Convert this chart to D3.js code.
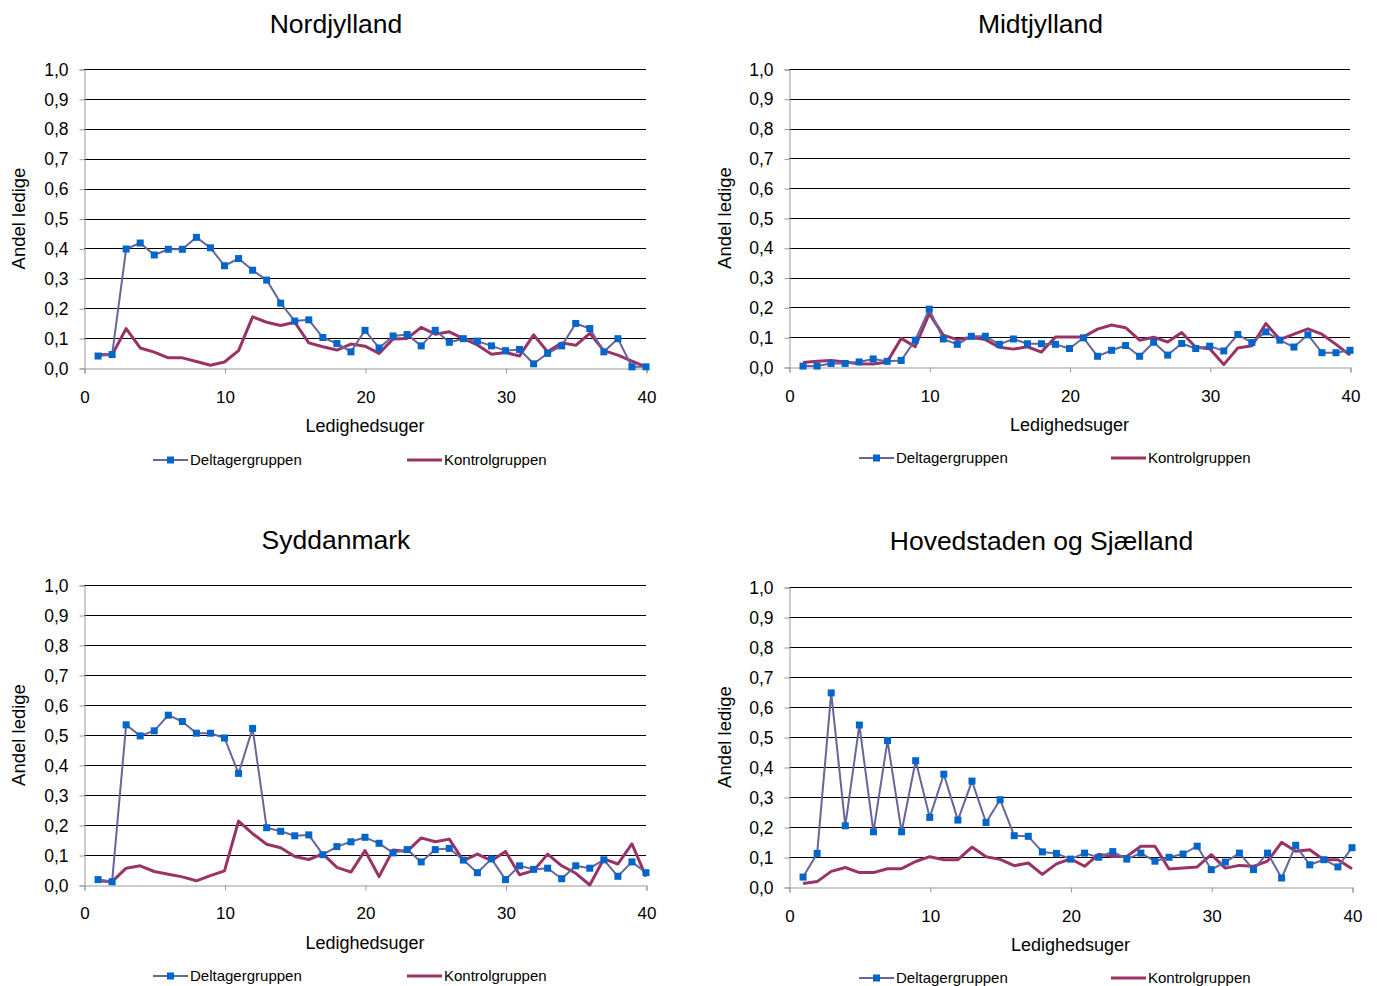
<!DOCTYPE html>
<html><head><meta charset="utf-8">
<script src="https://cdn.jsdelivr.net/npm/d3@7"></script>
<style>
body{margin:0;background:#fff;}
svg{display:block;font-family:"Liberation Sans",Arial,sans-serif;}
</style></head>
<body>
<svg id="c" width="1377" height="986"></svg>
<script>
const weeks = d3.range(1, 41);
const yTicks = [0,0.1,0.2,0.3,0.4,0.5,0.6,0.7,0.8,0.9,1.0];
const xTicks = [0,10,20,30,40];
const titles = ["Nordjylland","Midtjylland","Syddanmark","Hovedstaden og Sjælland"];
const seriesNames = ["Deltagergruppen","Kontrolgruppen"];

const nordDeltager = [0.040,0.045,0.398,0.418,0.378,0.397,0.397,0.437,0.402,0.342,0.366,0.327,0.294,0.217,0.157,0.161,0.102,0.082,0.054,0.126,
  0.067,0.107,0.112,0.074,0.126,0.086,0.098,0.090,0.074,0.058,0.062,0.014,0.049,0.074,0.149,0.132,0.054,0.098,0.004,0.004];
const nordKontrol = [0.045,0.044,0.132,0.067,0.053,0.034,0.034,0.022,0.009,0.020,0.058,0.171,0.153,0.142,0.153,0.084,0.071,0.060,0.080,0.073,
  0.049,0.097,0.099,0.136,0.113,0.121,0.098,0.077,0.046,0.052,0.040,0.111,0.054,0.084,0.076,0.116,0.058,0.043,0.023,0.004];
const midtDeltager = [0.003,0.003,0.012,0.012,0.017,0.027,0.019,0.022,0.090,0.194,0.094,0.076,0.103,0.103,0.076,0.094,0.078,0.078,0.076,0.062,
  0.098,0.036,0.056,0.072,0.036,0.083,0.040,0.079,0.062,0.070,0.054,0.109,0.082,0.118,0.090,0.067,0.108,0.048,0.048,0.056];
const midtKontrol = [0.015,0.019,0.022,0.017,0.011,0.010,0.017,0.096,0.068,0.179,0.107,0.092,0.099,0.092,0.066,0.060,0.068,0.050,0.101,0.101,
  0.101,0.127,0.141,0.132,0.090,0.100,0.084,0.116,0.066,0.061,0.008,0.064,0.071,0.146,0.092,0.110,0.128,0.110,0.076,0.040];
const sydDeltager = [0.018,0.011,0.534,0.497,0.514,0.566,0.545,0.506,0.506,0.490,0.372,0.522,0.191,0.179,0.164,0.167,0.101,0.128,0.144,0.159,
  0.139,0.107,0.118,0.077,0.118,0.122,0.083,0.041,0.087,0.018,0.064,0.052,0.056,0.021,0.064,0.056,0.084,0.029,0.077,0.041];
const sydKontrol = [0.014,0.011,0.056,0.064,0.045,0.036,0.027,0.014,0.031,0.047,0.213,0.171,0.136,0.124,0.095,0.085,0.104,0.059,0.043,0.115,
  0.028,0.117,0.112,0.157,0.144,0.153,0.081,0.103,0.081,0.112,0.034,0.048,0.103,0.064,0.039,0.000,0.087,0.070,0.137,0.028];
const hovDeltager = [0.033,0.112,0.647,0.204,0.540,0.184,0.488,0.184,0.421,0.232,0.376,0.223,0.353,0.215,0.291,0.171,0.169,0.117,0.112,0.093,
  0.113,0.099,0.118,0.093,0.113,0.086,0.099,0.110,0.136,0.058,0.083,0.113,0.058,0.113,0.030,0.139,0.074,0.091,0.067,0.131];
const hovKontrol = [0.012,0.018,0.052,0.065,0.048,0.048,0.061,0.061,0.085,0.101,0.091,0.091,0.133,0.101,0.092,0.071,0.080,0.042,0.077,0.094,
  0.069,0.109,0.102,0.102,0.136,0.136,0.060,0.063,0.067,0.108,0.063,0.072,0.069,0.086,0.149,0.119,0.124,0.091,0.091,0.061];

const deltagerSets = [nordDeltager, midtDeltager, sydDeltager, hovDeltager];
const kontrolSets = [nordKontrol, midtKontrol, sydKontrol, hovKontrol];

// layout per panel
const layout = [
  {x0:84, x1:646, y0:69, y1:368, titleY:33, xlabY:402, xtitleY:432, legY:460, ytitleX:25, leg1:153, leg2:407},
  {x0:789, x1:1350, y0:69, y1:367, titleY:33, xlabY:401, xtitleY:431, legY:458, ytitleX:731, leg1:859, leg2:1111},
  {x0:84, x1:646, y0:585, y1:885, titleY:549, xlabY:918, xtitleY:949, legY:976, ytitleX:25, leg1:153, leg2:407},
  {x0:789, x1:1352, y0:587, y1:887, titleY:550, xlabY:921, xtitleY:951, legY:978, ytitleX:731, leg1:859, leg2:1111}
];

const svg = d3.select("#c");
const fmt = d => d.toFixed(1).replace(".", ",");

layout.forEach((L, i) => {
  const g = svg.append("g");
  const x = d3.scaleLinear().domain([0,40]).range([L.x0, L.x1]);
  const y = d3.scaleLinear().domain([0,1]).range([L.y1, L.y0]);

  // gridlines
  g.append("g").selectAll("line").data(yTicks.filter(t => t > 0)).join("line")
    .attr("x1", L.x0).attr("x2", L.x1)
    .attr("y1", d => Math.round(y(d)) + 0.5).attr("y2", d => Math.round(y(d)) + 0.5)
    .attr("stroke", "#000").attr("stroke-width", 1);

  // y axis
  const ya = g.append("g").attr("transform", `translate(${L.x0 + 0.5},0.5)`)
    .call(d3.axisLeft(y).tickValues(yTicks).tickFormat(fmt).tickSize(5).tickPadding(11));
  ya.select(".domain").attr("stroke", "#999");
  ya.selectAll(".tick line").attr("stroke", "#999");
  ya.selectAll("text").attr("font-size", 17.5).attr("fill", "#000").attr("font-family", "'Liberation Sans', Arial, sans-serif");

  // x axis
  const xa = g.append("g").attr("transform", `translate(0.5,${L.y1 + 0.5})`)
    .call(d3.axisBottom(x).tickValues(xTicks).tickFormat(d3.format("d")).tickSize(5).tickPadding(0));
  xa.select(".domain").attr("stroke", "#999");
  xa.selectAll(".tick line").attr("stroke", "#999");
  xa.selectAll("text").attr("font-size", 17).attr("fill", "#000").attr("dy", null)
    .attr("y", L.xlabY - L.y1).attr("font-family", "'Liberation Sans', Arial, sans-serif");

  // titles
  g.append("text").attr("y", L.titleY)
    .attr("x", (L.x0 + L.x1)/2 - 29).attr("text-anchor", "middle")
    .attr("font-size", 26.5).text(titles[i]);
  g.append("text").attr("x", (L.x0 + L.x1)/2).attr("y", L.xtitleY)
    .attr("text-anchor", "middle").attr("font-size", 18).text("Ledighedsuger");
  g.append("text").attr("transform", `translate(${L.ytitleX},${(L.y0 + L.y1)/2}) rotate(-90)`)
    .attr("text-anchor", "middle").attr("font-size", 18.5).text("Andel ledige");

  const line = d3.line().x((d, j) => x(weeks[j])).y(d => y(d));

  g.append("path").datum(kontrolSets[i]).attr("d", line)
    .attr("fill", "none").attr("stroke", "#993366").attr("stroke-width", 3).attr("stroke-linejoin", "round");
  g.append("path").datum(deltagerSets[i]).attr("d", line)
    .attr("fill", "none").attr("stroke", "#666699").attr("stroke-width", 2).attr("stroke-linejoin", "round");
  g.append("g").selectAll("rect").data(deltagerSets[i]).join("rect")
    .attr("x", (d, j) => x(weeks[j]) - 3.5).attr("y", d => y(d) - 3.5)
    .attr("width", 7).attr("height", 7).attr("fill", "#0066CC");

  // legend
  const lg = g.append("g");
  lg.append("line").attr("x1", L.leg1).attr("x2", L.leg1 + 35).attr("y1", L.legY).attr("y2", L.legY)
    .attr("stroke", "#666699").attr("stroke-width", 2);
  lg.append("rect").attr("x", L.leg1 + 14).attr("y", L.legY - 3.5).attr("width", 7).attr("height", 7).attr("fill", "#0066CC");
  lg.append("text").attr("x", L.leg1 + 37).attr("y", L.legY + 5).attr("font-size", 15).text(seriesNames[0]);
  lg.append("line").attr("x1", L.leg2).attr("x2", L.leg2 + 35).attr("y1", L.legY).attr("y2", L.legY)
    .attr("stroke", "#993366").attr("stroke-width", 3);
  lg.append("text").attr("x", L.leg2 + 37).attr("y", L.legY + 5).attr("font-size", 15).text(seriesNames[1]);
});
</script>
</body></html>
